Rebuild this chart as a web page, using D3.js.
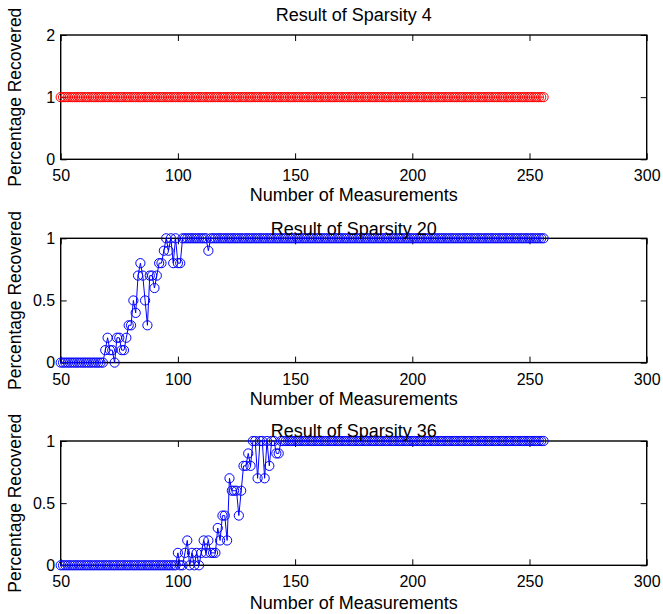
<!DOCTYPE html>
<html>
<head>
<meta charset="utf-8">
<script src="https://cdn.jsdelivr.net/npm/d3@7"></script>
<style>
  body { margin: 0; background: #fff; }
  svg text { font-family: "Liberation Sans", Arial, Helvetica, sans-serif; fill: #000; }
</style>
</head>
<body>
<div id="wrapper"></div>
<script>
// measurement counts 50..256 (one point per measurement)
let measurements = d3.range(50, 257);

let xTicks = [50, 100, 150, 200, 250, 300];

let sparsity4 = [
  1,1,1,1,1,1,1,1,1,1,  1,1,1,1,1,1,1,1,1,1,
  1,1,1,1,1,1,1,1,1,1,  1,1,1,1,1,1,1,1,1,1,
  1,1,1,1,1,1,1,1,1,1,  1,1,1,1,1,1,1,1,1,1,
  1,1,1,1,1,1,1,1,1,1,  1,1,1,1,1,1,1,1,1,1,
  1,1,1,1,1,1,1,1,1,1,  1,1,1,1,1,1,1,1,1,1,
  1,1,1,1,1,1,1,1,1,1,  1,1,1,1,1,1,1,1,1,1,
  1,1,1,1,1,1,1,1,1,1,  1,1,1,1,1,1,1,1,1,1,
  1,1,1,1,1,1,1,1,1,1,  1,1,1,1,1,1,1,1,1,1,
  1,1,1,1,1,1,1,1,1,1,  1,1,1,1,1,1,1,1,1,1,
  1,1,1,1,1,1,1,1,1,1,  1,1,1,1,1,1,1,1,1,1,
  1,1,1,1,1,1,1
];

let sparsity20 = [
  0,0,0,0,0,0,0,0,0,0,              0,0,0,0,0,0,0,0,0,0.1,
  0.2,0.1,0.1,0,0.2,0.2,0.1,0.1,0.2,0.3,  0.3,0.5,0.4,0.7,0.8,0.7,0.5,0.3,0.7,0.7,
  0.6,0.7,0.8,0.8,0.9,1,0.9,1,0.8,1,  0.8,0.8,1,1,1,1,1,1,1,1,
  1,1,1,0.9,1,1,1,1,1,1,            1,1,1,1,1,1,1,1,1,1,
  1,1,1,1,1,1,1,1,1,1,              1,1,1,1,1,1,1,1,1,1,
  1,1,1,1,1,1,1,1,1,1,              1,1,1,1,1,1,1,1,1,1,
  1,1,1,1,1,1,1,1,1,1,              1,1,1,1,1,1,1,1,1,1,
  1,1,1,1,1,1,1,1,1,1,              1,1,1,1,1,1,1,1,1,1,
  1,1,1,1,1,1,1,1,1,1,              1,1,1,1,1,1,1,1,1,1,
  1,1,1,1,1,1,1,1,1,1,              1,1,1,1,1,1,1,1,1,1,
  1,1,1,1,1,1,1
];

let sparsity36 = [
  0,0,0,0,0,0,0,0,0,0,              0,0,0,0,0,0,0,0,0,0,
  0,0,0,0,0,0,0,0,0,0,              0,0,0,0,0,0,0,0,0,0,
  0,0,0,0,0,0,0,0,0,0,              0.1,0,0,0.1,0.2,0,0.1,0,0.1,0,
  0.1,0.2,0.1,0.2,0.1,0.1,0.1,0.3,0.2,0.4,  0.4,0.2,0.7,0.6,0.6,0.6,0.4,0.6,0.8,0.8,
  0.9,0.8,1,1,0.7,1,1,0.7,1,0.8,    1,1,0.9,0.9,1,1,1,1,1,1,
  1,1,1,1,1,1,1,1,1,1,              1,1,1,1,1,1,1,1,1,1,
  1,1,1,1,1,1,1,1,1,1,              1,1,1,1,1,1,1,1,1,1,
  1,1,1,1,1,1,1,1,1,1,              1,1,1,1,1,1,1,1,1,1,
  1,1,1,1,1,1,1,1,1,1,              1,1,1,1,1,1,1,1,1,1,
  1,1,1,1,1,1,1,1,1,1,              1,1,1,1,1,1,1,1,1,1,
  1,1,1,1,1,1,1
];

let titles = ["Result of Sparsity 4", "Result of Sparsity 20", "Result of Sparsity 36"];
let series = [sparsity4, sparsity20, sparsity36];
let yMaxes = [2, 1, 1];
let yTickSets = [[0, 1, 2], [0, 0.5, 1], [0, 0.5, 1]];
let colors = ["#ff0000", "#0000ff", "#0000ff"];

// layout
let width = 663, height = 614;
let xLeft = 60.7, xRight = 646.7;
let hViz = 124.3;
let panelTops = [35, 238.3, 441];
let titleBase = [21, 235, 437];
let xLabelBase = [201, 404.5, 608.5];
let tickLen = 6;

let svg = d3.select("#wrapper")
            .append("svg")
            .attr("width", width)
            .attr("height", height);

let xScale = d3.scaleLinear()
                .domain([50, 300])
                .range([xLeft, xRight]);

series.forEach((values, k) => {
    let top = panelTops[k];
    let color = colors[k];

    let yScale = d3.scaleLinear()
                    .domain([0, yMaxes[k]])
                    .range([top + hViz, top]);

    let g = svg.append("g");

    // ticks point inward on all four sides
    let bottomG = g.append("g")
                    .attr("transform", `translate(0, ${top + hViz})`)
                    .call(d3.axisBottom(xScale).tickValues(xTicks).tickSize(-tickLen).tickFormat(d3.format("d")));
    bottomG.selectAll("text")
            .attr("y", 22)
            .attr("dy", null)
            .style("font-size", "16px");

    g.append("g")
        .attr("transform", `translate(0, ${top})`)
        .call(d3.axisTop(xScale).tickValues(xTicks).tickSize(-tickLen).tickFormat(""));

    let leftG = g.append("g")
                  .attr("transform", `translate(${xLeft}, 0)`)
                  .call(d3.axisLeft(yScale).tickValues(yTickSets[k]).tickSize(-tickLen).tickFormat(d => String(d)));
    leftG.selectAll("text")
          .attr("x", -5.5)
          .style("font-size", "16px");

    g.append("g")
        .attr("transform", `translate(${xRight}, 0)`)
        .call(d3.axisRight(yScale).tickValues(yTickSets[k]).tickSize(-tickLen).tickFormat(""));

    g.selectAll(".domain").remove();
    g.selectAll(".tick line").attr("stroke", "#000").attr("stroke-width", 1);
    g.selectAll(".tick text").attr("font-family", null);

    g.append("rect")
        .attr("x", xLeft)
        .attr("y", top)
        .attr("width", xRight - xLeft)
        .attr("height", hViz)
        .attr("fill", "none")
        .attr("stroke", "#000")
        .attr("stroke-width", 1.4);

    let points = measurements.map((m, i) => ({m: m, v: values[i]}));

    let dMaker = d3.line()
                    .x(d => xScale(d.m))
                    .y(d => yScale(d.v))
                    .curve(d3.curveLinear);

    g.append("path")
        .attr("d", dMaker(points))
        .attr("fill", "none")
        .attr("stroke", color)
        .attr("stroke-width", 1);

    g.append("g")
        .selectAll("circle")
        .data(points)
        .enter()
        .append("circle")
        .attr("cx", d => xScale(d.m))
        .attr("cy", d => yScale(d.v))
        .attr("r", 4.6)
        .attr("fill", "none")
        .attr("stroke", color)
        .attr("stroke-width", 1);

    g.append("text")
        .attr("x", (xLeft + xRight) / 2)
        .attr("y", titleBase[k])
        .style("text-anchor", "middle")
        .style("font-size", "18px")
        .text(titles[k]);

    g.append("text")
        .attr("x", (xLeft + xRight) / 2)
        .attr("y", xLabelBase[k])
        .style("text-anchor", "middle")
        .style("font-size", "18px")
        .text("Number of Measurements");

    g.append("text")
        .attr("transform", `translate(21, ${top + hViz / 2}) rotate(-90)`)
        .style("text-anchor", "middle")
        .style("font-size", "17.5px")
        .text("Percentage Recovered");
});
</script>
</body>
</html>
